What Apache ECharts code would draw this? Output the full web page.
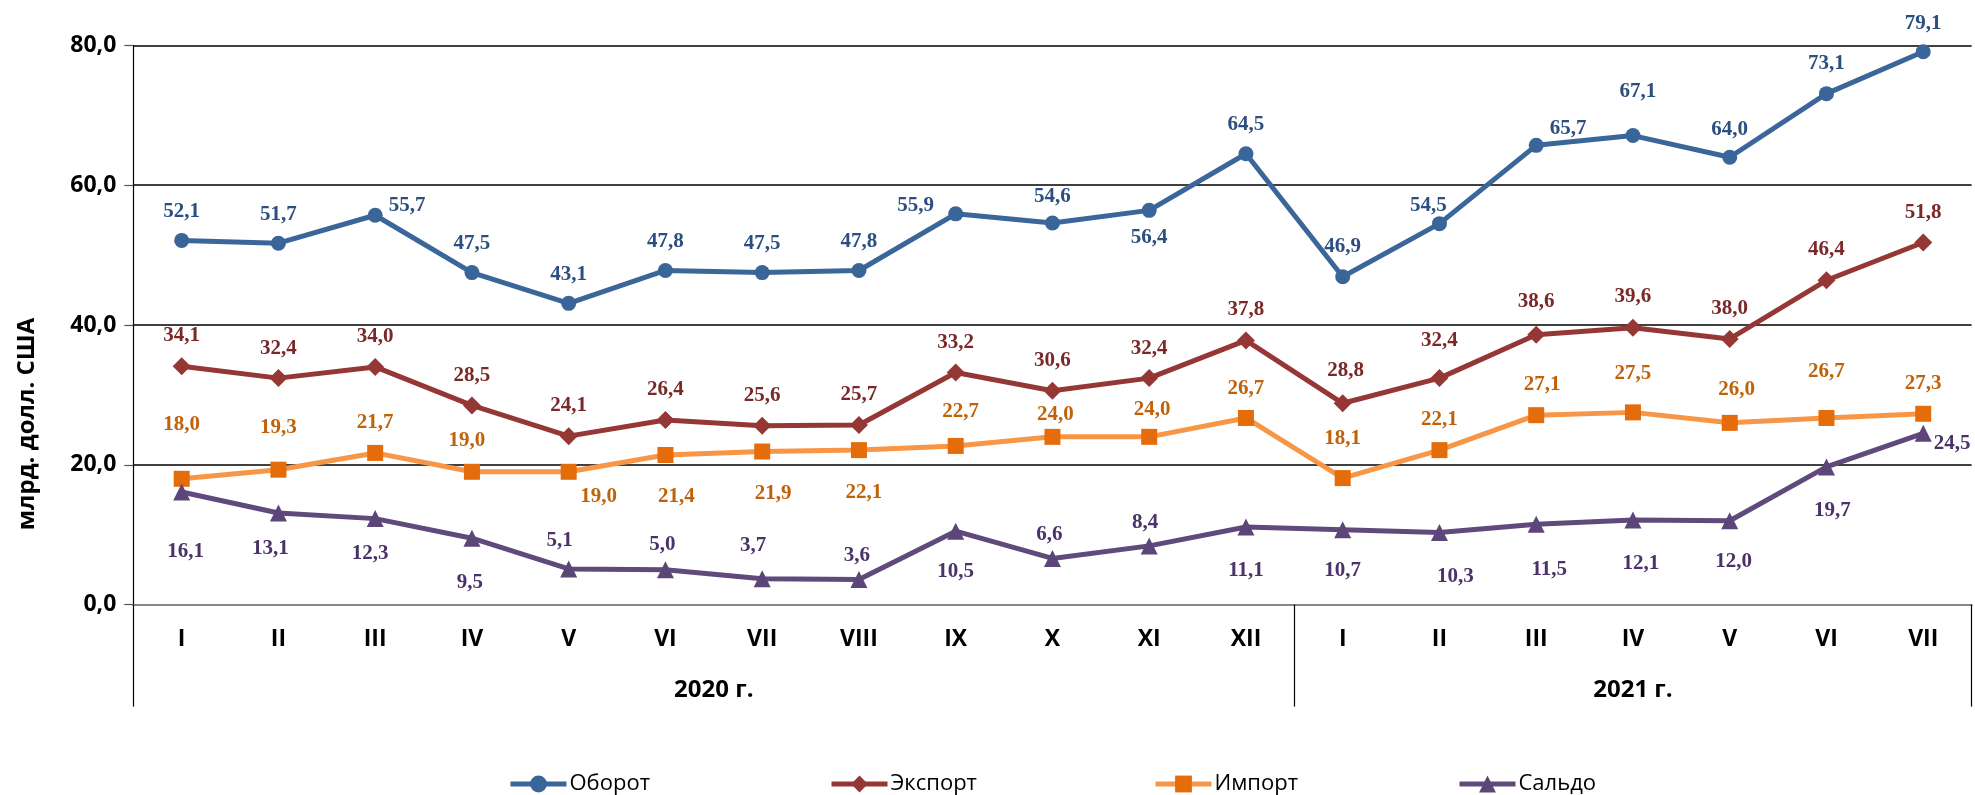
<!DOCTYPE html>
<html>
<head>
<meta charset="utf-8">
<script src="https://cdn.jsdelivr.net/npm/echarts@6/dist/echarts.min.js"></script>
<style>
  html, body { margin: 0; padding: 0; background: #fff; }
  #main { width: 1975px; height: 795px; }
</style>
</head>
<body>
<div id="main"></div>
<script>
// данные
const months = ['I', 'II', 'III', 'IV', 'V', 'VI', 'VII', 'VIII', 'IX', 'X', 'XI', 'XII',
  'I', 'II', 'III', 'IV', 'V', 'VI', 'VII']
const years = ['2020 г.', '2021 г.']
const yTicks = [0, 20, 40, 60, 80]

const turnover = [52.1, 51.7, 55.7, 47.5, 43.1, 47.8, 47.5, 47.8, 55.9, 54.6, 56.4, 64.5,
  46.9, 54.5, 65.7, 67.1, 64.0, 73.1, 79.1]
const exportVals = [34.1, 32.4, 34.0, 28.5, 24.1, 26.4, 25.6, 25.7, 33.2, 30.6, 32.4, 37.8,
  28.8, 32.4, 38.6, 39.6, 38.0, 46.4, 51.8]
const importVals = [18.0, 19.3, 21.7, 19.0, 19.0, 21.4, 21.9, 22.1, 22.7, 24.0, 24.0, 26.7,
  18.1, 22.1, 27.1, 27.5, 26.0, 26.7, 27.3]
const balance = [16.1, 13.1, 12.3, 9.5, 5.1, 5.0, 3.7, 3.6, 10.5, 6.6, 8.4, 11.1,
  10.7, 10.3, 11.5, 12.1, 12.0, 19.7, 24.5]

// смещения подписей относительно точки (px)
const turnoverLbl = [[0, -29], [0, -29], [32, -10], [0, -29], [0, -29], [0, -29], [0, -29], [0, -29],
  [-40, -8], [0, -26], [0, 27], [0, -29], [0, -30], [-11, -18], [32, -17], [5, -44], [0, -28], [0, -30], [0, -28]]
const exportLbl = [[0, -31], [0, -30], [0, -30], [0, -30], [0, -31], [0, -30], [0, -30], [0, -30],
  [0, -30], [0, -30], [0, -30], [0, -31], [3, -33], [0, -38], [0, -33], [0, -31], [0, -30], [0, -31], [0, -30]]
const importLbl = [[0, -54], [0, -42], [0, -30], [-5, -31], [30, 25], [11, 42], [11, 42], [5, 42],
  [5, -34], [3, -22], [3, -27], [0, -29], [0, -40], [0, -31], [6, -31], [0, -39], [7, -33], [0, -46], [0, -30]]
const balanceLbl = [[4, 60], [-8, 36], [-5, 35], [-2, 44], [-9, -28], [-3, -25], [-9, -33], [-2, -24],
  [0, 40], [-3, -24], [-4, -23], [0, 44], [0, 41], [16, 44], [13, 45], [8, 44], [4, 41], [6, 44], [29, 10]]

const fmt = v => v.toFixed(1).replace('.', ',')
const sansFont = '"Open Sans", "Liberation Sans", sans-serif'

function makeSeries(name, vals, offs, lineColor, markColor, textColor, symbol, size) {
  return {
    name: name,
    type: 'line',
    symbol: symbol,
    symbolSize: size,
    lineStyle: { width: 5, color: lineColor },
    itemStyle: { color: markColor },
    label: {
      show: true,
      position: 'inside',
      color: textColor,
      fontFamily: '"Liberation Serif", "Times New Roman", serif',
      fontWeight: 'bold',
      fontSize: 21,
      formatter: p => fmt(p.value)
    },
    data: vals.map((v, i) => ({ value: v, label: { offset: offs[i] } }))
  }
}

function makeLegend(name, left) {
  return {
    data: [name],
    left: left,
    top: 768,
    itemWidth: 56,
    itemHeight: 21,
    itemGap: 4,
    lineStyle: { width: 5 },
    textStyle: { fontFamily: sansFont, fontSize: 22, color: '#000', padding: [0, 0, 0, -2] }
  }
}

const chart = echarts.init(document.getElementById('main'))

chart.setOption({
  animation: false,
  backgroundColor: '#fff',
  grid: { left: 133.3, right: 3.4, top: 45.4, bottom: 190.4 },
  legend: [
    makeLegend('Оборот', 503),
    makeLegend('Экспорт', 824),
    makeLegend('Импорт', 1148),
    makeLegend('Сальдо', 1452)
  ],
  graphic: [{
    type: 'text',
    x: 27,
    y: 424,
    rotation: Math.PI / 2,
    style: {
      text: 'млрд. долл. США',
      fontFamily: sansFont,
      fontWeight: 'bold',
      fontSize: 24,
      fill: '#000',
      align: 'center',
      verticalAlign: 'middle'
    }
  }],
  xAxis: [
    {
      type: 'category',
      data: months,
      boundaryGap: true,
      axisLine: { lineStyle: { color: '#878787', width: 2 } },
      axisTick: { length: 50, lineStyle: { color: '#878787', width: 1.5 } },
      axisLabel: {
        interval: 0,
        margin: 23,
        color: '#000',
        fontFamily: sansFont,
        fontWeight: 'bold',
        fontSize: 23
      }
    },
    {
      type: 'value',
      position: 'bottom',
      min: 0,
      max: 19,
      axisLine: { show: false },
      splitLine: { show: false },
      axisTick: {
        show: true,
        customValues: [0, 12, 19],
        length: 102,
        lineStyle: { color: '#000', width: 1.2 }
      },
      axisLabel: {
        customValues: [6, 15.5],
        margin: 74,
        color: '#000',
        fontFamily: sansFont,
        fontWeight: 'bold',
        fontSize: 24,
        formatter: v => (v < 12 ? years[0] : years[1])
      }
    }
  ],
  yAxis: {
    type: 'value',
    min: yTicks[0],
    max: yTicks[yTicks.length - 1],
    interval: 20,
    axisLine: { show: true, lineStyle: { color: '#000', width: 1.2 } },
    axisTick: { show: true, length: 9, lineStyle: { color: '#555', width: 1.2 } },
    splitLine: { lineStyle: { color: '#000', width: 1.6 } },
    axisLabel: {
      margin: 17,
      color: '#000',
      fontFamily: sansFont,
      fontWeight: 'bold',
      fontSize: 23,
      formatter: v => fmt(v)
    }
  },
  series: [
    makeSeries('Оборот', turnover, turnoverLbl, '#3B6699', '#3A6598', '#2C4F80', 'circle', 15),
    makeSeries('Экспорт', exportVals, exportLbl, '#953735', '#953735', '#7A2828', 'diamond', 18),
    makeSeries('Импорт', importVals, importLbl, '#F79646', '#E46C0A', '#C0620A', 'rect', 16),
    makeSeries('Сальдо', balance, balanceLbl, '#604A7B', '#5C4679', '#4B3268', 'triangle', 17)
  ]
})

window.addEventListener('resize', () => {
  chart.resize()
})
</script>
</body>
</html>
